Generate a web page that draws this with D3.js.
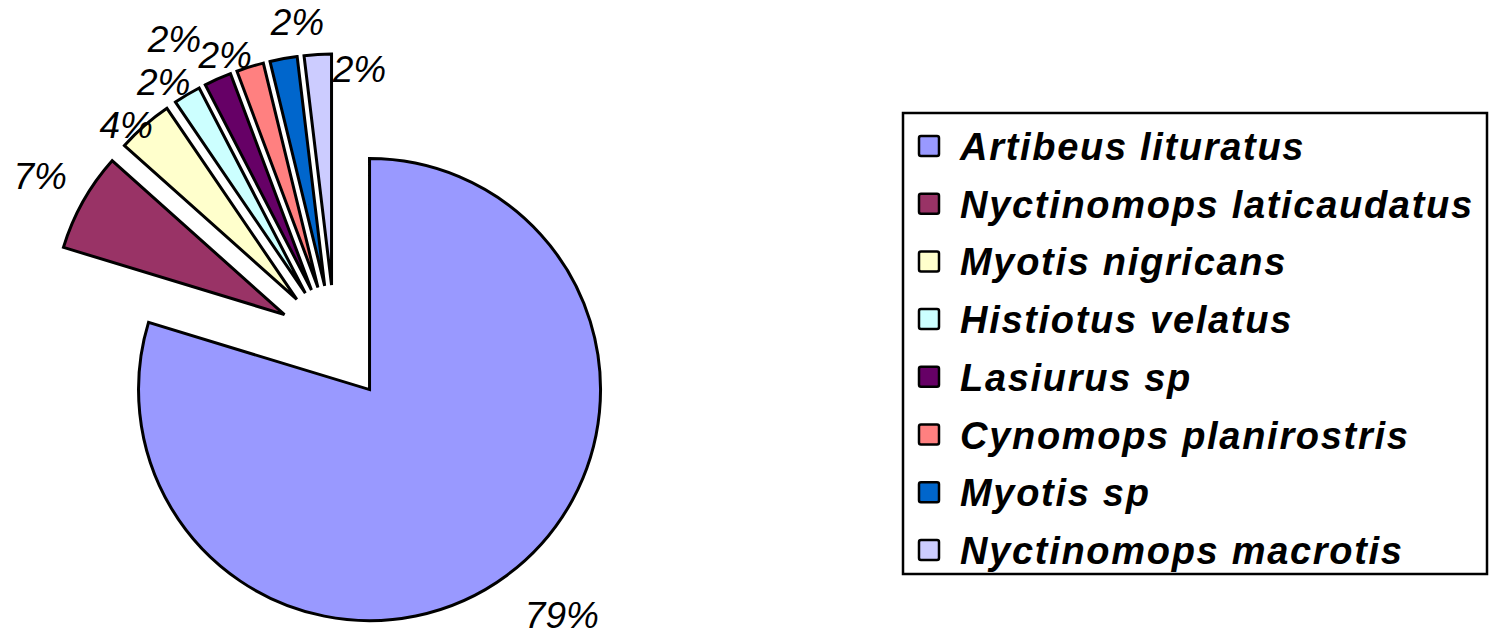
<!DOCTYPE html>
<html>
<head>
<meta charset="utf-8">
<script src="https://cdnjs.cloudflare.com/ajax/libs/d3/7.8.5/d3.min.js"></script>
<style>
  html, body { margin: 0; padding: 0; background: #fff; }
  svg { display: block; }
  .pct { font-family: "Liberation Sans", Arial, sans-serif; font-style: italic; font-size: 37px; fill: #000; }
  .leg { font-family: "Liberation Sans", Arial, sans-serif; font-style: italic; font-weight: bold; font-size: 38px; letter-spacing: 1.7px; fill: #000; }
</style>
</head>
<body>
<script>
// species and their share of captures (angles)
var species = ["Artibeus lituratus", "Nyctinomops laticaudatus", "Myotis nigricans", "Histiotus velatus",
               "Lasiurus sp", "Cynomops planirostris", "Myotis sp", "Nyctinomops macrotis"];
var shares = [79.7, 6.9, 3.9, 1.9, 1.9, 1.9, 1.9, 1.9];
var pctLabels = ["79%", "7%", "4%", "2%", "2%", "2%", "2%", "2%"];
var colors = ["#9999FF", "#993366", "#FFFFCC", "#CCFFFF", "#660066", "#FF8080", "#0066CC", "#CCCCFF"];

window.onload = function(){
	var width = 1490, height = 637;
	var cx = 335, cy = 343, radius = 231, explode = 58;

	// label nudges so they sit where Excel put them
	var nudge = [[31,8],[-8,-6],[8,29],[-3,22],[-27,-3],[-13,26],[21,3],[44,54]];

	var svg = d3.select("body").append("svg")
			.attr("width", width)
			.attr("height", height);

	var pie = d3.pie().sort(null).value(function(d){ return d; });
	var arc = d3.arc().innerRadius(0).outerRadius(radius);
	var arcs = pie(shares);

	var chart = svg.append("g").attr("transform", "translate(" + cx + "," + cy + ")");

	function dir(d){
		var a = (d.startAngle + d.endAngle) / 2;
		return [Math.sin(a), -Math.cos(a)];
	}

	chart.selectAll(".slice")
			.data(arcs)
		.enter().append("path")
			.attr("class", "slice")
			.attr("d", arc)
			.attr("transform", function(d){ var v = dir(d); return "translate(" + v[0]*explode + "," + v[1]*explode + ")"; })
			.style("fill", function(d, i){ return colors[i]; })
			.style("stroke", "#000")
			.style("stroke-width", 3)
			.style("stroke-linejoin", "miter");

	chart.selectAll(".pct")
			.data(arcs)
		.enter().append("text")
			.attr("class", "pct")
			.attr("text-anchor", "middle")
			.attr("x", function(d, i){ var v = dir(d); return v[0]*(explode + radius + 40) + nudge[i][0]; })
			.attr("y", function(d, i){ var v = dir(d); return v[1]*(explode + radius + 40) + nudge[i][1] + 13; })
			.text(function(d, i){ return pctLabels[i]; });

	// legend
	var lx = 903, ly = 113, lw = 584, lh = 461, rowH = 57.7, row0 = 146.5;
	var legend = svg.append("g");
	legend.append("rect")
			.attr("x", lx).attr("y", ly)
			.attr("width", lw).attr("height", lh)
			.style("fill", "#fff")
			.style("stroke", "#000")
			.style("stroke-width", 2.5);

	var item = legend.selectAll(".item")
			.data(species)
		.enter().append("g")
			.attr("class", "item")
			.attr("transform", function(d, i){ return "translate(0," + (row0 + i*rowH) + ")"; });

	item.append("rect")
			.attr("x", 919).attr("y", -10.5)
			.attr("width", 20).attr("height", 20)
			.attr("rx", 2)
			.style("fill", function(d, i){ return colors[i]; })
			.style("stroke", "#000")
			.style("stroke-width", 2.5);

	item.append("text")
			.attr("class", "leg")
			.attr("x", 960)
			.attr("y", 13.5)
			.text(function(d){ return d; });
};
</script>
</body>
</html>
